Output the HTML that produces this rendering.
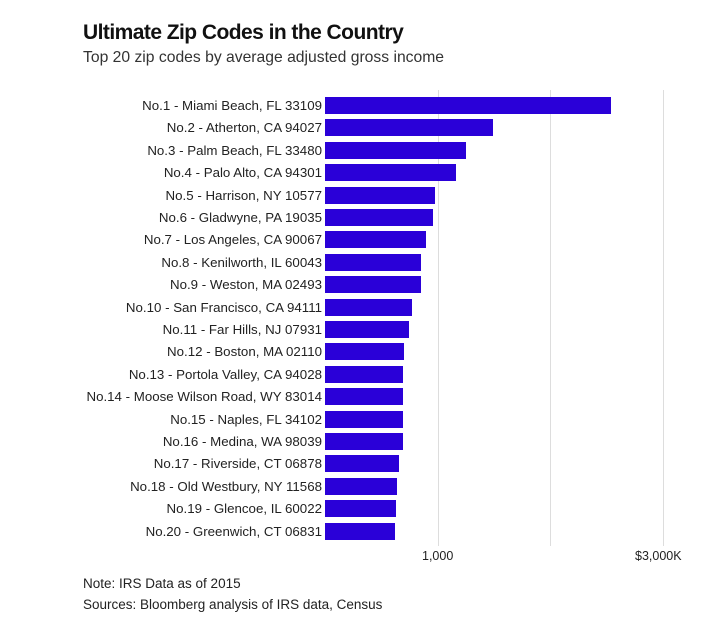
<!DOCTYPE html>
<html><head><meta charset="utf-8"><style>
body{margin:0;width:720px;height:644px;background:#fff;font-family:"Liberation Sans",sans-serif;position:relative;overflow:hidden;color:#222}
.t{position:absolute;left:83px;top:21px;font-size:21px;font-weight:bold;letter-spacing:-0.55px;color:#111}
.s{position:absolute;left:83px;top:49px;font-size:15.7px;color:#333}
.g{position:absolute;top:90px;height:456px;width:1px;background:#ddd}
.b{position:absolute;left:325px;height:17px;background:#2a00d8}
.l{position:absolute;right:398px;font-size:13.3px;color:#222;white-space:nowrap;line-height:17px}
.x{position:absolute;top:549px;font-size:12.5px;color:#222}
.n{position:absolute;left:83px;font-size:13.5px;color:#222}
</style></head><body>
<div class="t">Ultimate Zip Codes in the Country</div>
<div class="s">Top 20 zip codes by average adjusted gross income</div>
<div class="g" style="left:438px"></div>
<div class="g" style="left:550px"></div>
<div class="g" style="left:663px"></div>
<div id="c"></div>
<div class="x" style="left:422px">1,000</div>
<div class="x" style="left:635px">$3,000K</div>
<div class="n" style="top:576px">Note: IRS Data as of 2015</div>
<div class="n" style="top:597px">Sources: Bloomberg analysis of IRS data, Census</div>
<script>
var d=[["No.1 - Miami Beach, FL 33109",611],["No.2 - Atherton, CA 94027",493],["No.3 - Palm Beach, FL 33480",466],["No.4 - Palo Alto, CA 94301",456],["No.5 - Harrison, NY 10577",435],["No.6 - Gladwyne, PA 19035",433],["No.7 - Los Angeles, CA 90067",426],["No.8 - Kenilworth, IL 60043",421],["No.9 - Weston, MA 02493",421],["No.10 - San Francisco, CA 94111",412],["No.11 - Far Hills, NJ 07931",409],["No.12 - Boston, MA 02110",404],["No.13 - Portola Valley, CA 94028",403],["No.14 - Moose Wilson Road, WY 83014",403],["No.15 - Naples, FL 34102",403],["No.16 - Medina, WA 98039",403],["No.17 - Riverside, CT 06878",399],["No.18 - Old Westbury, NY 11568",397],["No.19 - Glencoe, IL 60022",396],["No.20 - Greenwich, CT 06831",395]];
var h="";d.forEach(function(r,i){var y=97+i*22.4;h+='<div class="b" style="top:'+y+'px;width:'+(r[1]-325)+'px"></div><div class="l" style="top:'+y+'px">'+r[0]+'</div>';});
document.getElementById("c").innerHTML=h;
</script>
</body></html>
